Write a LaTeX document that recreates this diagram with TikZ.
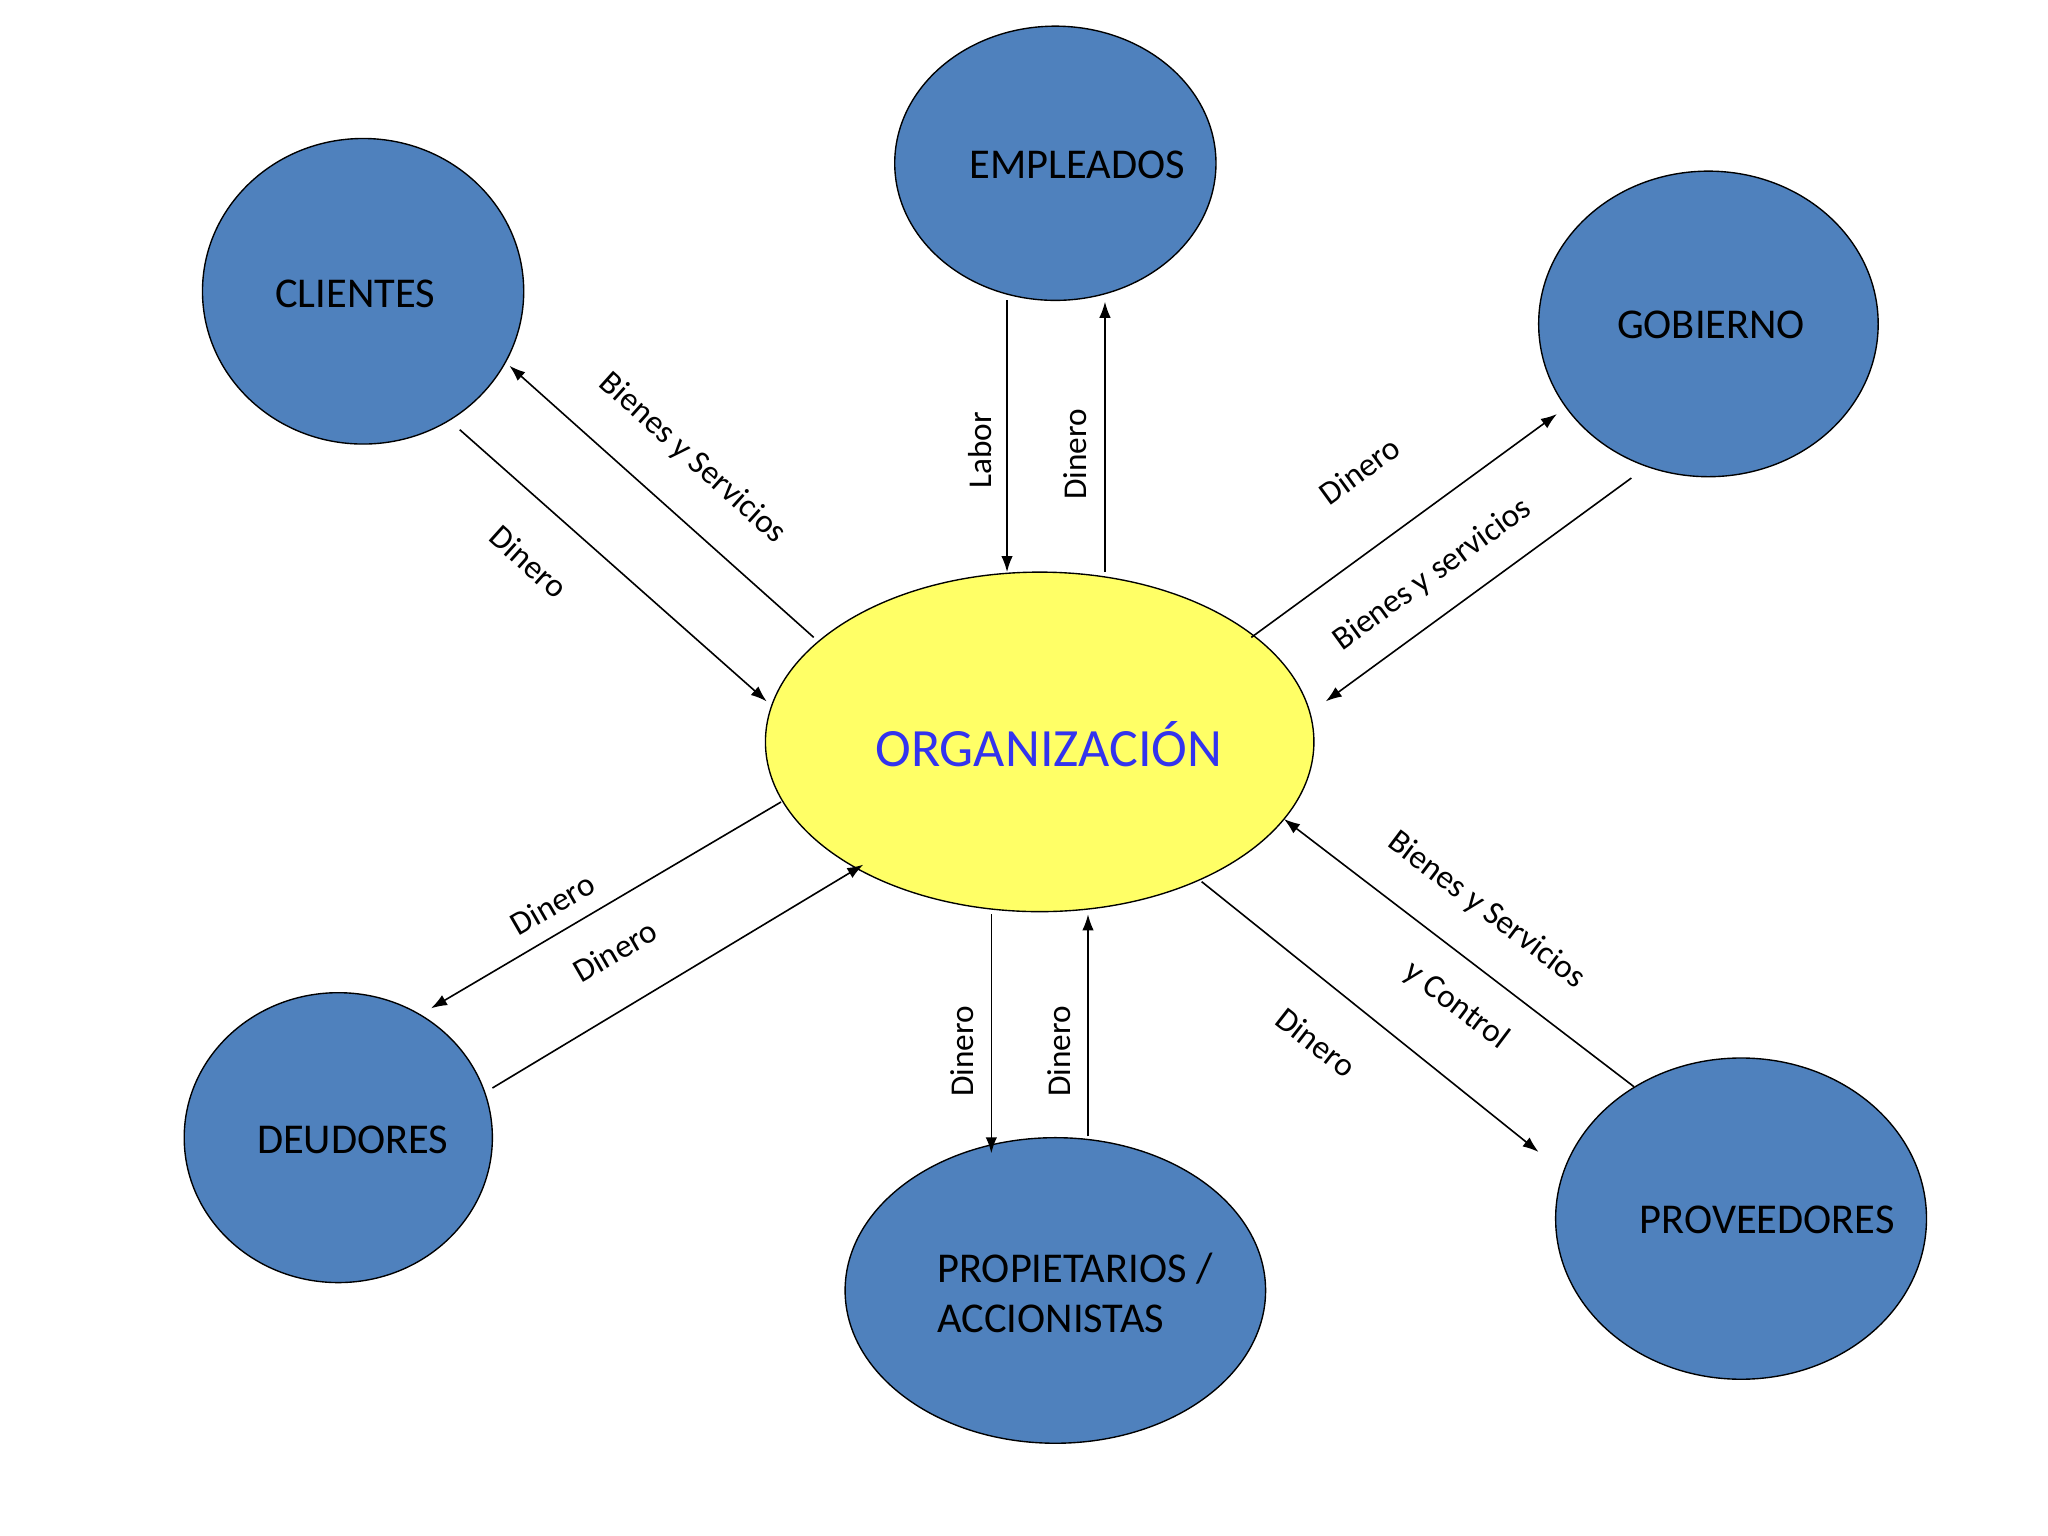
\documentclass[tikz,border=0pt]{standalone}
\usepackage{fontspec}
\setmainfont{Carlito}
\usetikzlibrary{shapes.geometric,arrows.meta}
\begin{document}
\begin{tikzpicture}[x=0.02cm,y=-0.02cm,
  blob/.style={ellipse,draw=black,line width=0.6pt,fill=blobblue,inner sep=0pt},
  nm/.style={font=\fontsize{18.5}{22}\selectfont,align=left},
  lab/.style={font=\fontsize{14.5}{17}\selectfont,inner sep=1pt},
  flow/.style={-{Latex[length=7pt,width=5pt]},line width=0.7pt}]
\definecolor{blobblue}{HTML}{4F81BD}
\definecolor{orgyellow}{HTML}{FFFF66}
\definecolor{orgtext}{HTML}{3333EE}
\useasboundingbox (0,0) rectangle (1568,1176);
\fill[white] (0,0) rectangle (1568,1176);
% nodes
\node[blob,minimum width=4.92cm,minimum height=4.68cm] (cli) at (278,223) {};
\node[nm] (tcli) at (272,225) {CLIENTES};
\node[blob,minimum width=4.92cm,minimum height=4.2cm] (emp) at (808,125) {};
\node[nm] (temp) at (825,126) {EMPLEADOS};
\node[blob,minimum width=5.2cm,minimum height=4.68cm] (gob) at (1308,248) {};
\node[nm] (tgob) at (1310,249) {GOBIERNO};
\node[ellipse,draw=black,line width=0.6pt,fill=orgyellow,minimum width=8.4cm,minimum height=5.2cm,inner sep=0pt] (org) at (796,568) {};
\node[font=\fontsize{23.5}{28}\selectfont,text=orgtext] (torg) at (803,570) {ORGANIZACIÓN};
\node[blob,minimum width=4.72cm,minimum height=4.44cm] (deu) at (259,871) {};
\node[nm] (tdeu) at (270,873) {DEUDORES};
\node[blob,minimum width=6.44cm,minimum height=4.68cm] (pro) at (808,988) {};
\node[nm] (tpro) at (823,990) {PROPIETARIOS /\\ACCIONISTAS};
\node[blob,minimum width=5.68cm,minimum height=4.92cm] (prv) at (1333,933) {};
\node[nm] (tprv) at (1353,934) {PROVEEDORES};
% connector endpoints
\coordinate (c1a) at (623,488); \coordinate (c1b) at (390,280);
\coordinate (c2a) at (352,329); \coordinate (c2b) at (587,537);
\coordinate (e1a) at (771,230); \coordinate (e1b) at (771,438);
\coordinate (e2a) at (846,438); \coordinate (e2b) at (846,231);
\coordinate (g1a) at (958,488); \coordinate (g1b) at (1192,317);
\coordinate (g2a) at (1249,366); \coordinate (g2b) at (1015,537);
\coordinate (p1a) at (1251,832); \coordinate (p1b) at (983,627);
\coordinate (p2a) at (920,675); \coordinate (p2b) at (1178,882);
\coordinate (o1a) at (759,700); \coordinate (o1b) at (759,883);
\coordinate (o2a) at (833,870); \coordinate (o2b) at (833,700);
\coordinate (d1a) at (598,614); \coordinate (d1b) at (330,772);
\coordinate (d2a) at (377,833); \coordinate (d2b) at (661,662);
\draw[flow] (c1a) -- (c1b);
\draw[flow] (c2a) -- (c2b);
\draw[flow] (e1a) -- (e1b);
\draw[flow] (e2a) -- (e2b);
\draw[flow] (g1a) -- (g1b);
\draw[flow] (g2a) -- (g2b);
\draw[flow] (p1a) -- (p1b);
\draw[flow] (p2a) -- (p2b);
\draw[flow] (o1a) -- (o1b);
\draw[flow] (o2a) -- (o2b);
\draw[flow] (d1a) -- (d1b);
\draw[flow] (d2a) -- (d2b);
% labels
\node[lab,rotate=-42] (l1) at (530,351) {Bienes y Servicios};
\node[lab,rotate=-42] (l2) at (405,430) {Dinero};
\node[lab,rotate=90] (l3) at (750,345) {Labor};
\node[lab,rotate=90] (l4) at (823,348) {Dinero};
\node[lab,rotate=36] (l5) at (1041,360) {Dinero};
\node[lab,rotate=36] (l6) at (1097,440) {Bienes y servicios};
\node[lab,rotate=-37] (l7) at (1138,697) {Bienes y Servicios};
\node[lab,rotate=-37] (l8) at (1115,770) {y Control};
\node[lab,rotate=-38] (l9) at (1008,798) {Dinero};
\node[lab,rotate=90] (l10) at (737,805) {Dinero};
\node[lab,rotate=90] (l11) at (811,805) {Dinero};
\node[lab,rotate=30] (l12) at (423,692) {Dinero};
\node[lab,rotate=30] (l13) at (471,728) {Dinero};
\end{tikzpicture}
\end{document}
